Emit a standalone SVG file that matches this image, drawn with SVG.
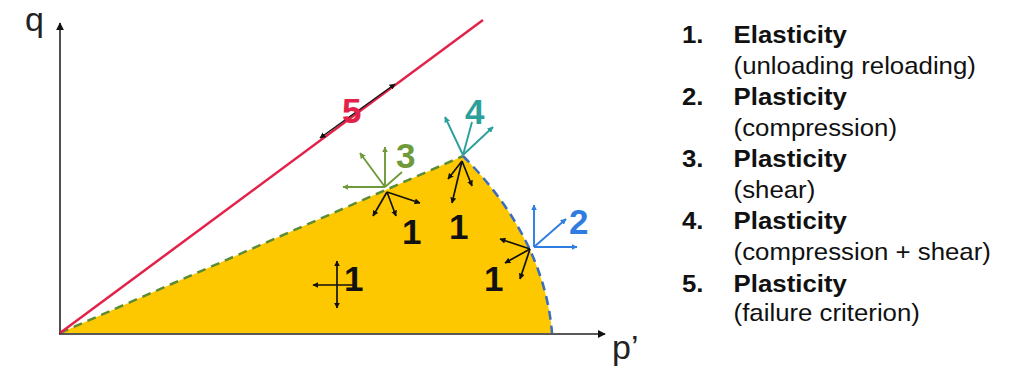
<svg xmlns="http://www.w3.org/2000/svg" width="1017" height="368" viewBox="0 0 1017 368">
<defs>
<marker id="ab" viewBox="0 0 10 10" refX="9" refY="5" markerWidth="8" markerHeight="8" orient="auto-start-reverse" markerUnits="userSpaceOnUse"><path d="M0,0 L10,5 L0,10 z" fill="#111"/></marker>
<marker id="ak" viewBox="0 0 10 10" refX="9" refY="5" markerWidth="6" markerHeight="6" orient="auto-start-reverse" markerUnits="userSpaceOnUse"><path d="M0,0 L10,5 L0,10 z" fill="#111"/></marker>
<marker id="ag" viewBox="0 0 10 10" refX="9" refY="5" markerWidth="6" markerHeight="6" orient="auto" markerUnits="userSpaceOnUse"><path d="M0,0 L10,5 L0,10 z" fill="#6f9a3a"/></marker>
<marker id="at" viewBox="0 0 10 10" refX="9" refY="5" markerWidth="6" markerHeight="6" orient="auto" markerUnits="userSpaceOnUse"><path d="M0,0 L10,5 L0,10 z" fill="#2a9f9b"/></marker>
<marker id="abl" viewBox="0 0 10 10" refX="9" refY="5" markerWidth="6" markerHeight="6" orient="auto" markerUnits="userSpaceOnUse"><path d="M0,0 L10,5 L0,10 z" fill="#2f7de0"/></marker>
</defs>
<style>
.ax{stroke:#222;stroke-width:1.6;fill:none}
.k{stroke:#111;stroke-width:1.7;fill:none;marker-end:url(#ak)}
.g{stroke:#6f9a3a;stroke-width:1.9;fill:none;marker-end:url(#ag)}
.t{stroke:#2a9f9b;stroke-width:1.9;fill:none;marker-end:url(#at)}
.b{stroke:#2f7de0;stroke-width:1.9;fill:none;marker-end:url(#abl)}
.num{font-family:"Liberation Sans",Arial,sans-serif;font-weight:bold;font-size:35px}
.lg{font-family:"Liberation Sans",Arial,sans-serif;font-size:24px;fill:#111}
.lgb{font-family:"Liberation Sans",Arial,sans-serif;font-size:24px;font-weight:bold;fill:#111}
.axl{font-family:"Liberation Sans",Arial,sans-serif;font-size:34px;fill:#222}
</style>
<rect width="1017" height="368" fill="#fff"/>
<g id="region">
<path d="M60,333 L463,156 C505,198 546,258 552,333 Z" fill="#fdc800"/>
<line x1="60" y1="333" x2="463" y2="156" stroke="#5e8c34" stroke-width="2.5" stroke-dasharray="9,6"/>
<path d="M463,156 C505,198 546,258 552,333" fill="none" stroke="#3a6cc0" stroke-width="2.5" stroke-dasharray="9,6"/>
</g>
<g id="axes">
<line class="ax" x1="60" y1="334" x2="60" y2="23" marker-end="url(#ab)"/>
<line class="ax" x1="59" y1="334" x2="605" y2="334" marker-end="url(#ab)"/>
<text class="axl" x="25" y="31">q</text>
<text class="axl" x="612" y="359">p’</text>
</g>
<g id="failure-line">
<line x1="60" y1="333" x2="483" y2="20" stroke="#e3224a" stroke-width="2.5"/>
<line x1="320" y1="138" x2="395" y2="84" stroke="#111" stroke-width="1.4" marker-start="url(#ak)" marker-end="url(#ak)"/>
<text class="num" x="342" y="123" fill="#e3224a">5</text>
</g>
<g id="node-3">
<line class="g" x1="385" y1="187" x2="343" y2="187"/>
<line class="g" x1="385" y1="187" x2="385" y2="147"/>
<line class="g" x1="385" y1="187" x2="360" y2="153"/>
<line x1="385" y1="187" x2="402" y2="172" stroke="#6f9a3a" stroke-width="1.9"/>
<text class="num" x="396" y="168" fill="#6f9a3a">3</text>
<line class="k" x1="387" y1="192" x2="373" y2="216"/>
<line class="k" x1="387" y1="192" x2="396" y2="216"/>
<line class="k" x1="387" y1="192" x2="420" y2="203"/>
<text class="num" x="402" y="244" fill="#111">1</text>
</g>
<g id="node-4">
<line class="t" x1="463" y1="155" x2="445" y2="117"/>
<line x1="463" y1="155" x2="472" y2="122" stroke="#2a9f9b" stroke-width="1.9"/>
<line class="t" x1="463" y1="155" x2="493" y2="127"/>
<text class="num" x="465" y="124" fill="#2a9f9b">4</text>
<line class="k" x1="462" y1="161" x2="448" y2="179"/>
<line class="k" x1="462" y1="161" x2="452" y2="203"/>
<line class="k" x1="462" y1="161" x2="472" y2="186"/>
<text class="num" x="449" y="239" fill="#111">1</text>
</g>
<g id="node-2">
<line class="b" x1="534" y1="247" x2="534" y2="205"/>
<line class="b" x1="534" y1="247" x2="566" y2="219"/>
<line class="b" x1="534" y1="247" x2="577" y2="247"/>
<text class="num" x="569" y="234" fill="#2f7de0">2</text>
<line class="k" x1="530" y1="249" x2="500" y2="239"/>
<line class="k" x1="530" y1="249" x2="505" y2="263"/>
<line class="k" x1="530" y1="249" x2="520" y2="279"/>
<text class="num" x="484" y="291" fill="#111">1</text>
</g>
<g id="node-1">
<line class="k" x1="356" y1="285" x2="313" y2="285"/>
<line x1="337" y1="261" x2="337" y2="308" stroke="#111" stroke-width="1.7" marker-start="url(#ak)" marker-end="url(#ak)"/>
<text class="num" x="344" y="291" fill="#111">1</text>
</g>
<g id="legend" transform="matrix(1.075,0,0,1,-51.15,0)">
<text class="lgb" x="682" y="43">1.</text><text class="lgb" x="730" y="43">Elasticity</text>
<text class="lg" x="730" y="74">(unloading reloading)</text>
<text class="lgb" x="682" y="105">2.</text><text class="lgb" x="730" y="105">Plasticity</text>
<text class="lg" x="730" y="136">(compression)</text>
<text class="lgb" x="682" y="167">3.</text><text class="lgb" x="730" y="167">Plasticity</text>
<text class="lg" x="730" y="198">(shear)</text>
<text class="lgb" x="682" y="229">4.</text><text class="lgb" x="730" y="229">Plasticity</text>
<text class="lg" x="730" y="260">(compression + shear)</text>
<text class="lgb" x="682" y="292">5.</text><text class="lgb" x="730" y="292">Plasticity</text>
<text class="lg" x="730" y="321">(failure criterion)</text>
</g>
</svg>
